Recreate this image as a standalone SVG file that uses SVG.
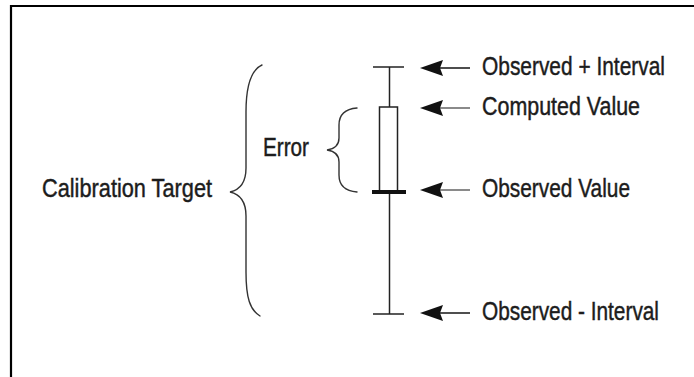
<svg xmlns="http://www.w3.org/2000/svg" width="694" height="377" viewBox="0 0 694 377">
  <defs>
    <style>
      .lbl { font-family: "Liberation Sans", Arial, sans-serif; font-size: 26px; fill: #1c1c1c; stroke: #1c1c1c; stroke-width: 0.45; }
      .brace { fill: none; stroke: #333; stroke-width: 1.4; stroke-linecap: round; }
      .bar { stroke: #222; stroke-width: 1.5; fill: none; }
      .shaft { stroke: #222; stroke-width: 1.6; }
      .shaft-g { stroke: #8a8a8a; stroke-width: 2; }
      .head { fill: #111; }
    </style>
  </defs>
  <rect x="0" y="0" width="694" height="377" fill="#fff"/>
  <g id="frame">
    <path d="M11,377 V6 H694" fill="none" stroke="#000" stroke-width="2.2"/>
  </g>

  <g id="calibration-target">
    <path class="brace" d="M262,65 C251,70 246,86 246,112 L246,168 C246,184 239,190 230,192 C239,194 246,200 246,216 L246,272 C246,298 250,310 260,316"/>
    <text class="lbl" transform="translate(42,197) scale(0.81,1)" textLength="209.9" lengthAdjust="spacingAndGlyphs">Calibration Target</text>
  </g>

  <g id="error">
    <path class="brace" d="M357,108 C345,109 339,115 339,125 L339,138 C339,145 334,149 327,150 C334,151 339,155 339,162 L339,175 C339,185 345,191 357,192"/>
    <text class="lbl" transform="translate(263,156) scale(0.81,1)" textLength="56.8" lengthAdjust="spacingAndGlyphs">Error</text>
  </g>

  <g id="error-bar">
    <line class="bar" x1="373" y1="67" x2="404" y2="67"/>
    <line class="bar" x1="389.5" y1="67" x2="389.5" y2="107"/>
    <rect class="bar" x="379.5" y="107" width="18" height="85" fill="#fff"/>
    <line class="bar" x1="389.5" y1="192" x2="389.5" y2="314"/>
    <line x1="372" y1="192" x2="406" y2="192" stroke="#111" stroke-width="4"/>
    <line class="bar" x1="373" y1="314" x2="404" y2="314"/>
  </g>

  <g id="observed-plus-interval">
    <text class="lbl" transform="translate(482,75) scale(0.81,1)" textLength="225.9" lengthAdjust="spacingAndGlyphs">Observed + Interval</text>
  </g>
  <g id="computed-value">
    <text class="lbl" transform="translate(482,115) scale(0.81,1)" textLength="195.1" lengthAdjust="spacingAndGlyphs">Computed Value</text>
  </g>
  <g id="observed-value">
    <text class="lbl" transform="translate(482,197) scale(0.81,1)" textLength="182.7" lengthAdjust="spacingAndGlyphs">Observed Value</text>
  </g>
  <g id="observed-minus-interval">
    <text class="lbl" transform="translate(482,320) scale(0.81,1)" textLength="218.5" lengthAdjust="spacingAndGlyphs">Observed - Interval</text>
  </g>

  <g id="connectors">
    <line class="shaft" x1="438" y1="68" x2="470" y2="68"/>
    <polygon class="head" points="420,68 443,60 440,68 443,76"/>
    <line class="shaft-g" x1="438" y1="108" x2="470" y2="108"/>
    <polygon class="head" points="420,108 443,100 440,108 443,116"/>
    <line class="shaft-g" x1="438" y1="190" x2="470" y2="190"/>
    <polygon class="head" points="420,190 443,182 440,190 443,198"/>
    <line class="shaft" x1="438" y1="313" x2="470" y2="313"/>
    <polygon class="head" points="420,313 443,305 440,313 443,321"/>
  </g>
</svg>
